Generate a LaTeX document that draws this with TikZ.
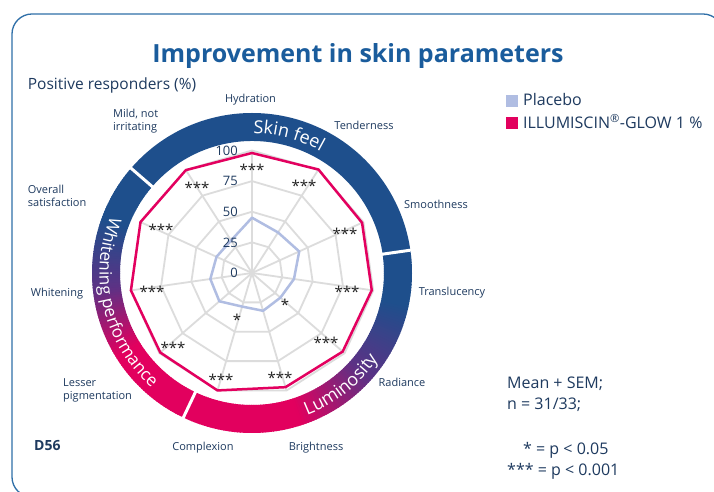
\documentclass[tikz,border=0pt]{standalone}
\usepackage{fontspec}
\setmainfont{Open Sans}
\usetikzlibrary{decorations.text}
\definecolor{navy}{HTML}{1E3A5F}
\definecolor{titleblue}{HTML}{1A5C9C}
\definecolor{framec}{HTML}{2F6FA8}
\definecolor{ringblue}{HTML}{1E4F8C}
\definecolor{ringpurple}{HTML}{5C3285}
\definecolor{ringmag}{HTML}{E2005E}
\definecolor{redline}{HTML}{E3005F}
\definecolor{plac}{HTML}{B0BDE2}
\definecolor{gridc}{HTML}{DCDCDC}
\definecolor{starc}{HTML}{222222}
\newcommand{\ringcolor}[1]{%
  \pgfmathsetmacro{\rcs}{#1<0.5 ? 200*#1 : 200*#1-100}%
  \ifdim #1pt<0.5pt \colorlet{segcol}{ringpurple!\rcs!ringblue}\else\colorlet{segcol}{ringmag!\rcs!ringpurple}\fi}
\begin{document}
\begin{tikzpicture}[x=1pt,y=1pt,
  axlab/.style={text=navy, font=\fontsize{11}{13}\selectfont, inner sep=0pt, align=left},
  vallab/.style={text=navy, font=\fontsize{13}{15}\selectfont, inner sep=0pt, anchor=east},
  stars/.style={text=starc, font=\fontsize{15}{15}\selectfont, inner sep=0pt},
  notes/.style={text=navy, font=\fontsize{16}{18}\selectfont, inner sep=0pt, anchor=base west},
  gridline/.style={gridc, line width=1.8pt},
  ringtext/.style={decorate, decoration={text along path, text align=center, text color=white}}
]
\useasboundingbox (0,0) rectangle (714,492);
\clip (0,0) rectangle (714,492);
\fill[white] (0,0) rectangle (714,492);

% frame
\draw[framec, line width=1.3pt, rounded corners=20pt] (12,-5) rectangle (723,478);

% title
\node[anchor=base, text=titleblue, font=\fontsize{25}{30}\selectfont\bfseries, inner sep=0pt] (title) at (358,429.3) {Improvement in skin parameters};
\node[anchor=base west, text=navy, font=\fontsize{15.5}{18}\selectfont, inner sep=0pt] (ylab) at (27.7,402.7) {Positive responders (\%)};

\coordinate (C) at (252,219);
\begin{scope}[shift={(C)}]
  % ring: skin feel
  \fill[ringblue] (8.2:132) arc[start angle=8.2,end angle=139.1,radius=132] -- (139.1:160) arc[start angle=139.1,end angle=8.2,radius=160] -- cycle;
  % whitening performance
  \foreach \i in {0,...,105}{
    \pgfmathsetmacro{\ra}{139.1+\i}
    \pgfmathsetmacro{\rb}{min(\ra+1.4,244.6)}
    \pgfmathsetmacro{\rt}{min(1,max(0,(\ra+0.5-160)/52))}
    \ringcolor{\rt}
    \fill[segcol] (\ra:132) arc[start angle=\ra,end angle=\rb,radius=132] -- (\rb:160) arc[start angle=\rb,end angle=\ra,radius=160] -- cycle;
  }
  % luminosity
  \foreach \i in {0,...,123}{
    \pgfmathsetmacro{\ra}{-115.4+\i}
    \pgfmathsetmacro{\rb}{min(\ra+1.4,8.2)}
    \pgfmathsetmacro{\rt}{min(1,max(0,(-12-(\ra+0.5))/60))}
    \ringcolor{\rt}
    \fill[segcol] (\ra:132) arc[start angle=\ra,end angle=\rb,radius=132] -- (\rb:160) arc[start angle=\rb,end angle=\ra,radius=160] -- cycle;
  }
  % gaps
  \foreach \g in {139.1,8.2,-115.4}{
    \draw[white, line width=3pt] (\g:128) -- (\g:164);
  }
  % ring texts
  \path[ringtext, decoration={text={|\fontsize{18}{20}\selectfont|Skin feel}}]
    (105:139.5) arc[start angle=105,end angle=45,radius=139.5];
  \path[ringtext, decoration={text={|\fontsize{17}{20}\selectfont|Whitening performance}}]
    (138.5:152.5) arc[start angle=138.5,end angle=248.5,radius=152.5];
  \path[ringtext, decoration={text={|\fontsize{18}{20}\selectfont|Luminosity}}]
    (-91.5:152.5) arc[start angle=-91.5,end angle=-11.5,radius=152.5];

  % grid
  \foreach \f in {0.25,0.5,0.75,1}{
    \draw[gridline, line join=round] (90:\f*122.5) \foreach \k in {1,...,10}{ -- ({90-\k*360/11}:\f*122.5) } -- cycle;
  }
  \foreach \k in {0,...,10}{
    \draw[gridline] (0,0) -- ({90-\k*360/11}:122.5);
  }
  % placebo
  \foreach \r [count=\k from 0] in {55.3,48.2,51.9,42.4,37.6,39.4,35,43.2,42.1,39,38.7}{
    \coordinate (b\k) at ({90-\k*360/11}:\r);
  }
  \draw[plac, line width=2.5pt, line join=round] (b0) -- (b1) -- (b2) -- (b3) -- (b4) -- (b5) -- (b6) -- (b7) -- (b8) -- (b9) -- (b10) -- cycle;
  % illumiscin
  \foreach \r [count=\k from 0] in {120,123,121,121,120,119,122.4,121.4,122.3,122.6,122.3}{
    \coordinate (r\k) at ({90-\k*360/11}:\r);
  }
  \draw[redline, line width=2.5pt, line join=miter] (r0) -- (r1) -- (r2) -- (r3) -- (r4) -- (r5) -- (r6) -- (r7) -- (r8) -- (r9) -- (r10) -- cycle;
\end{scope}

% value labels
\node[vallab] (v100) at (238,341) {100};
\node[vallab] (v75) at (238,311) {75};
\node[vallab] (v50) at (238,280) {50};
\node[vallab] (v25) at (238,249) {25};
\node[vallab] (v0) at (238,219) {0};

% significance stars
\node[stars] (s0) at (252,322) {***};
\node[stars] (s1) at (304,306) {***};
\node[stars] (s2) at (345,258) {***};
\node[stars] (s3) at (347,200) {***};
\node[stars] (s4) at (326,149) {***};
\node[stars] (s5) at (280,114) {***};
\node[stars] (s6) at (221,112) {***};
\node[stars] (s7) at (173,144) {***};
\node[stars] (s8) at (152,200) {***};
\node[stars] (s9) at (161,262) {***};
\node[stars] (s10) at (197,304) {***};
\node[stars] (p4) at (285,187) {*};
\node[stars] (p6) at (237,172) {*};

% axis labels
\node[axlab] (lHyd) at (250.5,392) {Hydration};
\node[axlab] (lTen) at (364,367) {Tenderness};
\node[axlab] (lSmo) at (436,288) {Smoothness};
\node[axlab] (lTra) at (452,199) {Translucency};
\node[axlab] (lRad) at (402,110) {Radiance};
\node[axlab] (lBri) at (316,44) {Brightness};
\node[axlab] (lCom) at (203,44) {Complexion};
\node[axlab, anchor=west] (lLes) at (63,101.5) {Lesser\\pigmentation};
\node[axlab] (lWhi) at (57,198) {Whitening};
\node[axlab, anchor=west] (lOve) at (27.7,296) {Overall\\satisfaction};
\node[axlab, anchor=west] (lMil) at (113,370.7) {Mild, not\\irritating};

% legend
\node[fill=plac, minimum size=11.7pt, inner sep=0pt] (legp) at (511.8,391.2) {};
\node[fill=ringmag, minimum size=11.7pt, inner sep=0pt] (legi) at (511.8,368.8) {};
\node[anchor=base west, text=navy, font=\fontsize{16}{18}\selectfont, inner sep=0pt] (legpt) at (523,386.5) {Placebo};
\node[anchor=base west, text=navy, font=\fontsize{16}{18}\selectfont, inner sep=0pt] (legit) at (523,363) {ILLUMISCIN\textsuperscript{®}-GLOW 1 \%};

% notes
\node[notes] (n1) at (507,103.3) {Mean + SEM;};
\node[notes] (n2) at (507,82.3) {n = 31/33;};
\node[notes] (n3) at (523,37.3) {* = p < 0.05};
\node[notes] (n4) at (507,16.3) {*** = p < 0.001};
\node[anchor=base west, text=navy, font=\fontsize{14}{16}\selectfont\bfseries, inner sep=0pt] (d56) at (34,41) {D56};
\end{tikzpicture}
\end{document}
